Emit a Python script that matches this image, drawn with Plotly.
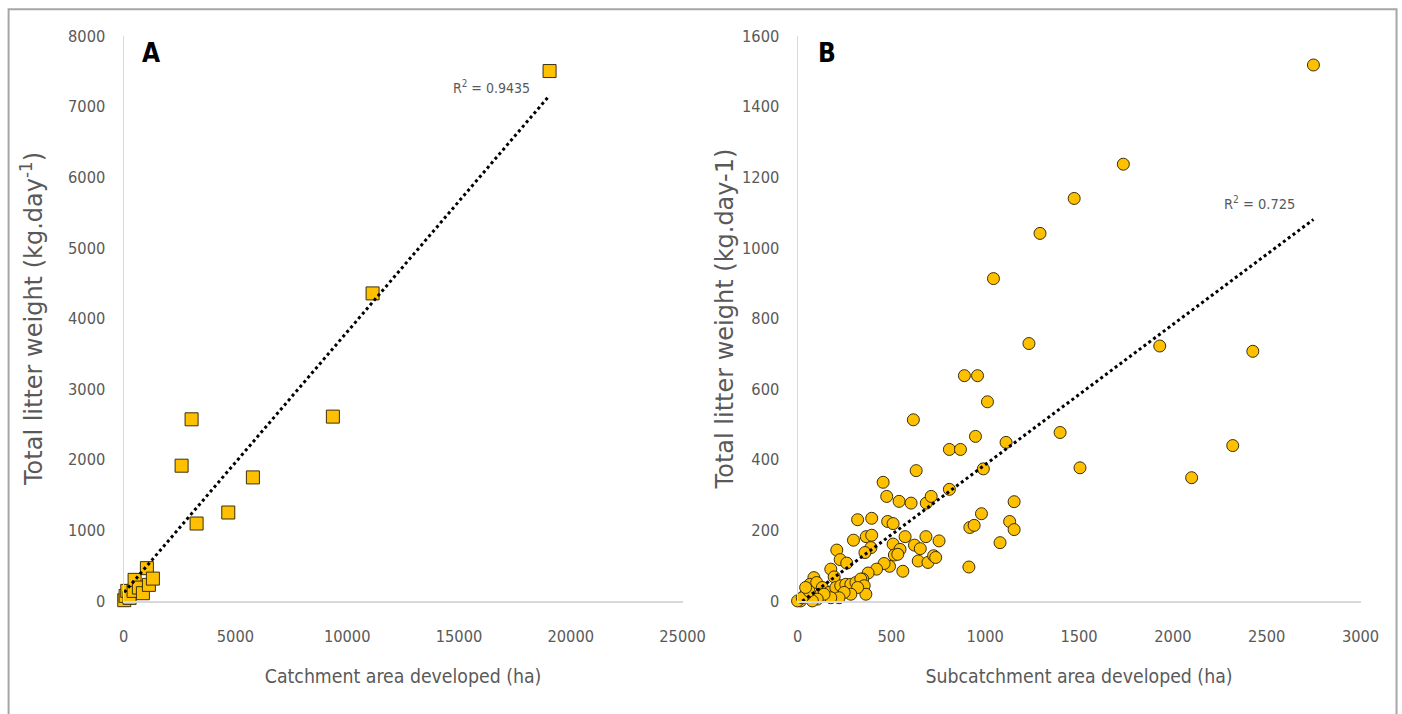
import plotly.graph_objects as go

# ---------------- Panel A data (catchments) ----------------
a_area = [30, 89, 165, 268, 447, 492, 684, 863, 1042, 1132, 1310,
          2594, 3041, 3265, 4682, 5783, 9360, 11136, 19052]
a_litter = [10, 71, 142, 43, 142, 298, 189, 109, 464, 227, 316,
            1915, 2572, 1096, 1252, 1749, 2610, 4355, 7504]
a_trend_slope = 0.37
a_trend_intercept = 110
a_r2_label = "R<sup>2</sup> = 0.9435"

# ---------------- Panel B data (subcatchments) ----------------
b_area = [2749, 1736, 1474, 1292, 1044, 1233, 1930, 2426, 889, 959,
          1012, 617, 1399, 948, 1111, 809, 868, 2319, 632, 990,
          1505, 2100, 456, 475, 541, 605, 686, 712, 809, 1154,
          980, 918, 941, 1130, 1154, 1079, 913, 320, 395, 480,
          509, 298, 366, 395, 573, 684, 754, 509, 546, 516,
          534, 623, 654, 643, 695, 725, 736, 561, 490, 461,
          209, 227, 262, 391, 359, 421, 376, 177, 195, 347,
          87, 66, 102, 132, 123, 168, 204, 230, 257, 284,
          311, 337, 355, 364, 320, 284, 248, 221, 177, 141,
          105, 79, 43, 16, 0, 25, 61, 43]
b_litter = [1518, 1237, 1140, 1041, 913, 729, 722, 707, 638, 638,
            564, 513, 477, 466, 449, 429, 429, 440, 369, 374,
            377, 349, 336, 296, 282, 277, 277, 296, 316, 281,
            247, 208, 214, 225, 202, 165, 96, 230, 234, 225,
            219, 172, 182, 186, 182, 182, 170, 161, 146, 130,
            132, 158, 148, 113, 109, 128, 123, 84, 98, 106,
            144, 117, 107, 151, 137, 90, 79, 90, 68, 62,
            66, 47, 52, 38, 19, 24, 38, 43, 47, 47,
            52, 62, 43, 19, 38, 19, 24, 9, 9, 19,
            5, 0, 19, 0, 0, 9, 28, 38]
b_trend_slope = 0.397
b_trend_intercept = -11
b_r2_label = "R<sup>2</sup> = 0.725"

a_xticks = [0, 5000, 10000, 15000, 20000, 25000]
a_yticks = [0, 1000, 2000, 3000, 4000, 5000, 6000, 7000, 8000]
b_xticks = [0, 500, 1000, 1500, 2000, 2500, 3000]
b_yticks = [0, 200, 400, 600, 800, 1000, 1200, 1400, 1600]

W, H = 1440, 745
NARROW = "Liberation Sans Narrow, DejaVu Sans Condensed, Arial Narrow, sans-serif"
WIDE = "DejaVu Sans, Verdana, sans-serif"
GREY = "#595959"
GOLD = "#FFC000"
EDGE = "#3b2f0a"


# layout helpers: convert target pixel positions of the photographed page into figure px
def PX(o):
    return (o - 4.4) / 0.9806


def PY(o):
    return (o - 9.0) / 0.973


def fx(o):
    return PX(o) / W


def fy(o):
    return 1 - PY(o) / H


fig = go.Figure()

# Panel A markers
fig.add_trace(go.Scatter(
    x=a_area, y=a_litter, mode="markers", xaxis="x", yaxis="y",
    marker=dict(symbol="square", size=13, color=GOLD, line=dict(color=EDGE, width=1)),
    cliponaxis=False, hoverinfo="x+y"))
a_tx = [min(a_area), max(a_area)]
fig.add_trace(go.Scatter(
    x=a_tx, y=[a_trend_slope * v + a_trend_intercept for v in a_tx],
    mode="lines", xaxis="x", yaxis="y",
    line=dict(color="black", width=3, dash="dot"), hoverinfo="skip"))

# Panel B markers
fig.add_trace(go.Scatter(
    x=b_area, y=b_litter, mode="markers", xaxis="x2", yaxis="y2",
    marker=dict(symbol="circle", size=12, color=GOLD, line=dict(color=EDGE, width=1)),
    cliponaxis=False, hoverinfo="x+y"))
b_tx = [min(b_area), max(b_area)]
fig.add_trace(go.Scatter(
    x=b_tx, y=[b_trend_slope * v + b_trend_intercept for v in b_tx],
    mode="lines", xaxis="x2", yaxis="y2",
    line=dict(color="black", width=3, dash="dot"), hoverinfo="skip"))

ydom = [fy(600), fy(36)]
tickfont = dict(family=NARROW, size=16.3, color=GREY)


def xaxis_cfg(domain, rng, ticks, title, anchor):
    return dict(domain=domain, range=rng, tickvals=ticks, ticktext=[str(t) for t in ticks],
                anchor=anchor,
                showgrid=False, zeroline=False, showline=True,
                linecolor="#D9D9D9", linewidth=1.5,
                ticks="outside", ticklen=20, tickcolor="rgba(0,0,0,0)",
                tickfont=tickfont,
                title=dict(text=title, font=dict(family=NARROW, size=19.3, color=GREY), standoff=24))


def yaxis_cfg(rng, ticks, title, anchor, ticklen, standoff):
    return dict(domain=ydom, range=rng, tickvals=ticks, ticktext=[str(t) for t in ticks],
                anchor=anchor,
                showgrid=False, zeroline=False, showline=True,
                linecolor="#D9D9D9", linewidth=1,
                ticks="outside", ticklen=ticklen, tickcolor="rgba(0,0,0,0)",
                tickfont=tickfont,
                title=dict(text=title, font=dict(family=WIDE, size=24, color=GREY), standoff=standoff))


fig.update_layout(
    width=W, height=H, margin=dict(l=0, r=0, t=0, b=0),
    paper_bgcolor="white", plot_bgcolor="white", showlegend=False,
    xaxis=xaxis_cfg([fx(123), fx(682)], [0, 25000], a_xticks,
                    "Catchment area developed (ha)", "y"),
    yaxis=yaxis_cfg([0, 8000], a_yticks, "Total litter weight (kg.day<sup>-1</sup>)", "x", 14, 18),
    xaxis2=xaxis_cfg([fx(797), fx(1360)], [0, 3000], b_xticks,
                     "Subcatchment area developed (ha)", "y2"),
    yaxis2=yaxis_cfg([0, 1600], b_yticks, "Total litter weight (kg.day-1)", "x2", 14, 1),
)

ann = dict(xref="paper", yref="paper", showarrow=False, xanchor="center", yanchor="middle")
fig.add_annotation(text="<b>A</b>", x=fx(150), y=fy(53),
                   font=dict(family=NARROW, size=26, color="black"), **ann)
fig.add_annotation(text="<b>B</b>", x=fx(826), y=fy(53),
                   font=dict(family=NARROW, size=26, color="black"), **ann)
fig.add_annotation(text=a_r2_label, x=fx(491), y=fy(87),
                   font=dict(family=NARROW, size=14, color=GREY), **ann)
fig.add_annotation(text=b_r2_label, x=fx(1259), y=fy(203),
                   font=dict(family=NARROW, size=14.5, color=GREY), **ann)

# outer grey frame of the figure
fig.add_shape(type="rect", xref="paper", yref="paper",
              x0=fx(8), x1=fx(1396), y0=-0.05, y1=1 - 0.3 / H,
              line=dict(color="#A6A6A6", width=2), fillcolor="rgba(0,0,0,0)", layer="below")

fig.write_html("out.html", config={"displayModeBar": False},
               post_script="document.body.style.margin='0';document.body.style.overflow='hidden';")
